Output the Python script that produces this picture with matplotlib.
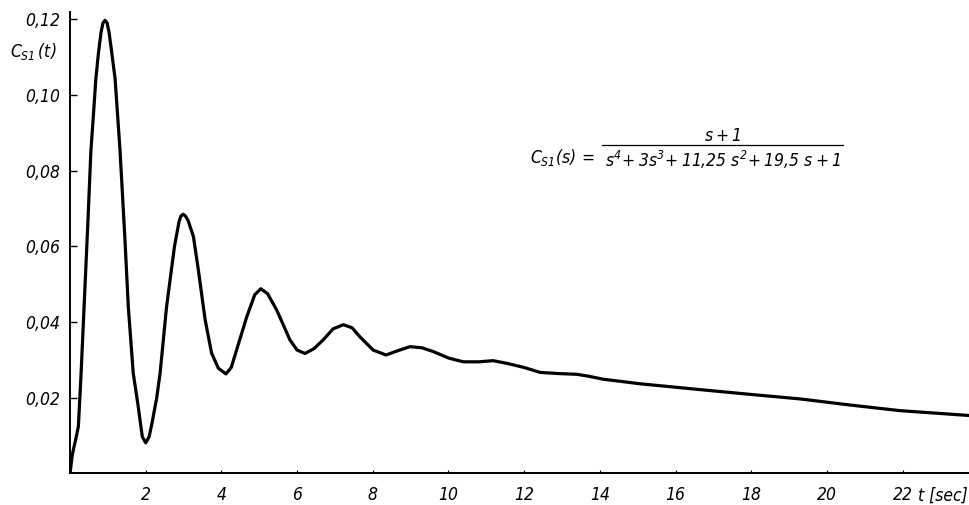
import matplotlib.pyplot as plt
import matplotlib.font_manager as fm

# values
t_sec = [0.0, 0.06, 0.15, 0.22, 0.29, 0.38, 0.47, 0.55, 0.62, 0.68, 0.75, 0.82,
         0.87, 0.925, 0.98, 1.03, 1.10, 1.19, 1.32, 1.45, 1.54, 1.67, 1.79, 1.85,
         1.91, 2.00, 2.09, 2.17, 2.29, 2.38, 2.55, 2.76, 2.88, 2.93, 2.99, 3.05,
         3.12, 3.26, 3.39, 3.57, 3.74, 3.92, 4.12, 4.26, 4.40, 4.67, 4.88, 5.04,
         5.22, 5.46, 5.81, 6.00, 6.21, 6.45, 6.69, 6.95, 7.22, 7.45, 7.66, 8.01,
         8.35, 8.65, 8.98, 9.30, 9.60, 10.0, 10.39, 10.8, 11.18, 11.54, 12.0,
         12.42, 12.9, 13.39, 13.7, 14.09, 15.06, 16.6, 17.97, 19.29, 20.6, 21.93,
         23.78]
c_s1 = [0.0, 0.005, 0.009, 0.0124, 0.026, 0.046, 0.066, 0.085, 0.095, 0.104,
        0.111, 0.1166, 0.119, 0.1197, 0.119, 0.1166, 0.1114, 0.1043, 0.0855, 0.062,
        0.044, 0.0265, 0.0185, 0.0141, 0.0097, 0.0081, 0.0097, 0.0135, 0.0200, 0.0265,
        0.044, 0.060, 0.0665, 0.0680, 0.0685, 0.0680, 0.0668, 0.0626, 0.0538, 0.0406,
        0.0318, 0.0278, 0.0263, 0.028, 0.0326, 0.0414, 0.0472, 0.0488, 0.0475, 0.0432,
        0.0353, 0.0326, 0.0317, 0.0330, 0.0353, 0.0382, 0.0393, 0.0385, 0.0361, 0.0326,
        0.0313, 0.0324, 0.0335, 0.0332, 0.0322, 0.0305, 0.0295, 0.0295, 0.0298, 0.0291,
        0.028, 0.0267, 0.0264, 0.0262, 0.0257, 0.0249, 0.0237, 0.0222, 0.0209, 0.0197,
        0.0181, 0.0166, 0.0153]

x_ticks = [2, 4, 6, 8, 10, 12, 14, 16, 18, 20, 22]
y_ticks = [0.02, 0.04, 0.06, 0.08, 0.10, 0.12]
y_labels = ['0,02', '0,04', '0,06', '0,08', '0,10', '0,12']

# narrow italic face if one is installed, like the original lettering
fonts = fm.fontManager.ttflist
fam, stretch = 'DejaVu Sans', 'normal'
if any(f.name == 'Liberation Sans Narrow' for f in fonts):
    fam = 'Liberation Sans Narrow'
elif any(f.name == 'DejaVu Sans' and f.stretch == 'condensed' for f in fonts):
    stretch = 'condensed'
plt.rcParams['font.family'] = [fam, 'DejaVu Sans']
plt.rcParams['font.style'] = 'italic'
plt.rcParams['font.stretch'] = stretch
plt.rcParams['mathtext.fontset'] = 'custom'
plt.rcParams['mathtext.it'] = fam + ':italic'
plt.rcParams['mathtext.rm'] = fam + ':italic'

fig = plt.figure(figsize=(9.7, 5.05), dpi=100)
ax = fig.add_axes([0.0722, 0.0624, 0.9278, 0.9138])

ax.plot(t_sec, c_s1, color='black', lw=2.3, solid_joinstyle='round', solid_capstyle='round')

ax.set_xlim(0, 23.78)
ax.set_ylim(0, 0.1219)
ax.spines['top'].set_visible(False)
ax.spines['right'].set_visible(False)
ax.spines['left'].set_linewidth(1.4)
ax.spines['bottom'].set_linewidth(1.4)

ax.set_xticks(x_ticks)
ax.set_xticklabels([str(v) for v in x_ticks], fontsize=12.5, style='italic')
ax.set_yticks(y_ticks)
ax.set_yticklabels(y_labels, fontsize=12.5, style='italic')
ax.tick_params(axis='y', direction='in', length=5, width=1, pad=7)
ax.tick_params(axis='x', direction='in', length=2, width=0.8, pad=9)

# axis labels
fig.text(0.010, 0.888, r'$C_{S1}\,(t)$', fontsize=12.5)
ax.text(22.40, -0.0060, 't [sec]', fontsize=12.5, style='italic', ha='left', va='center')

# transfer function
ax.text(12.15, 0.0836, r'$C_{S1}(s)\,=$', fontsize=12.5, ha='left', va='center')
ax.text(17.23, 0.0892, r'$s+1$', fontsize=12.5, ha='center', va='center')
ax.plot([14.06, 20.42], [0.0868, 0.0868], color='black', lw=0.9, clip_on=False)
ax.text(17.24, 0.0828, r'$s^4\!+3s^3\!+11{,}25\ s^2\!+19{,}5\ s+1$', fontsize=12.5,
        ha='center', va='center')

fig.savefig('out.png', dpi=100)
